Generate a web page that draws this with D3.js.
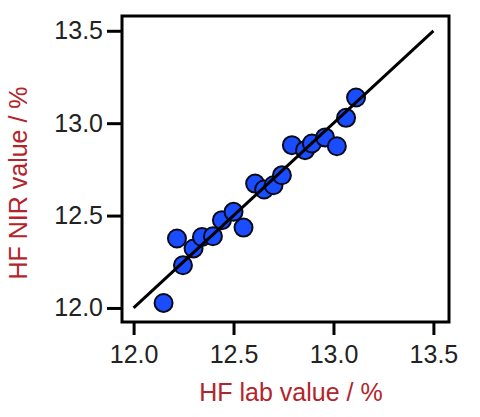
<!DOCTYPE html>
<html lang="en">
<head>
    <meta charset="UTF-8">
    <title>HF NIR vs lab</title>
    <script src="https://cdnjs.cloudflare.com/ajax/libs/d3/7.9.0/d3.min.js"></script>
    <style>
        body { margin: 0; background: #fff; font-family: "Liberation Sans", Arial, sans-serif; }
        .tick text { font-size: 25px; fill: #222; font-family: "Liberation Sans", Arial, sans-serif; }
        .axis-title { font-size: 25px; fill: #b3242b; }
    </style>
</head>
<body>
<div id="chart"></div>
<script>
    // data
    const labValues = [12.15, 12.217, 12.247, 12.30, 12.342, 12.397, 12.442, 12.50, 12.55, 12.608,
                       12.653, 12.70, 12.742, 12.792, 12.858, 12.892, 12.958, 13.017, 13.063, 13.113];
    const nirValues = [12.027, 12.376, 12.231, 12.322, 12.384, 12.388, 12.475, 12.52, 12.435, 12.673,
                       12.641, 12.664, 12.718, 12.881, 12.854, 12.89, 12.923, 12.875, 13.029, 13.139];
    const tickValues = [12.0, 12.5, 13.0, 13.5];
    const lineEnds = [12.0, 13.5];

    const width = 480, height = 417;
    const margin = { top: 16, right: 31, bottom: 95, left: 122 };
    const w = width - margin.left - margin.right;
    const h = height - margin.top - margin.bottom;

    const svg = d3.select("#chart").append("svg")
        .attr("width", width)
        .attr("height", height);

    const g = svg.append("g")
        .attr("transform", `translate(${margin.left},${margin.top})`);

    const x = d3.scaleLinear().domain([11.942, 13.578]).range([0, w]);
    const y = d3.scaleLinear().domain([11.924, 13.58]).range([h, 0]);

    // x axis
    const xAxis = g.append("g")
        .attr("transform", `translate(0,${h})`)
        .call(d3.axisBottom(x).tickValues(tickValues).tickFormat(d3.format(".1f")).tickSize(13).tickSizeOuter(0).tickPadding(10));
    xAxis.select(".domain").remove();
    xAxis.selectAll(".tick line").attr("stroke", "#000").attr("stroke-width", 3);

    // y axis
    const yAxis = g.append("g")
        .call(d3.axisLeft(y).tickValues(tickValues).tickFormat(d3.format(".1f")).tickSize(15).tickSizeOuter(0).tickPadding(4));
    yAxis.select(".domain").remove();
    yAxis.selectAll(".tick line").attr("stroke", "#000").attr("stroke-width", 3);

    // points
    const pts = labValues.map((v, i) => ({ lab: v, nir: nirValues[i] }));
    g.selectAll(".pt")
        .data(pts)
        .enter()
        .append("circle")
        .attr("class", "pt")
        .attr("cx", d => x(d.lab))
        .attr("cy", d => y(d.nir))
        .attr("r", 9)
        .attr("fill", "#1a4dff")
        .attr("stroke", "#0a0a1a")
        .attr("stroke-width", 2);

    // 1:1 line on top
    g.append("line")
        .attr("x1", x(lineEnds[0])).attr("y1", y(lineEnds[0]))
        .attr("x2", x(lineEnds[1])).attr("y2", y(lineEnds[1]))
        .attr("stroke", "#000")
        .attr("stroke-width", 3);

    // frame
    g.append("rect")
        .attr("width", w).attr("height", h)
        .attr("fill", "none")
        .attr("stroke", "#000")
        .attr("stroke-width", 3);

    // axis titles
    svg.append("text")
        .attr("class", "axis-title")
        .attr("x", 291)
        .attr("y", 401)
        .attr("text-anchor", "middle")
        .text("HF lab value / %");

    svg.append("text")
        .attr("class", "axis-title")
        .attr("transform", "translate(27,183) rotate(-90)")
        .attr("text-anchor", "middle")
        .text("HF NIR value / %");
</script>
</body>
</html>
